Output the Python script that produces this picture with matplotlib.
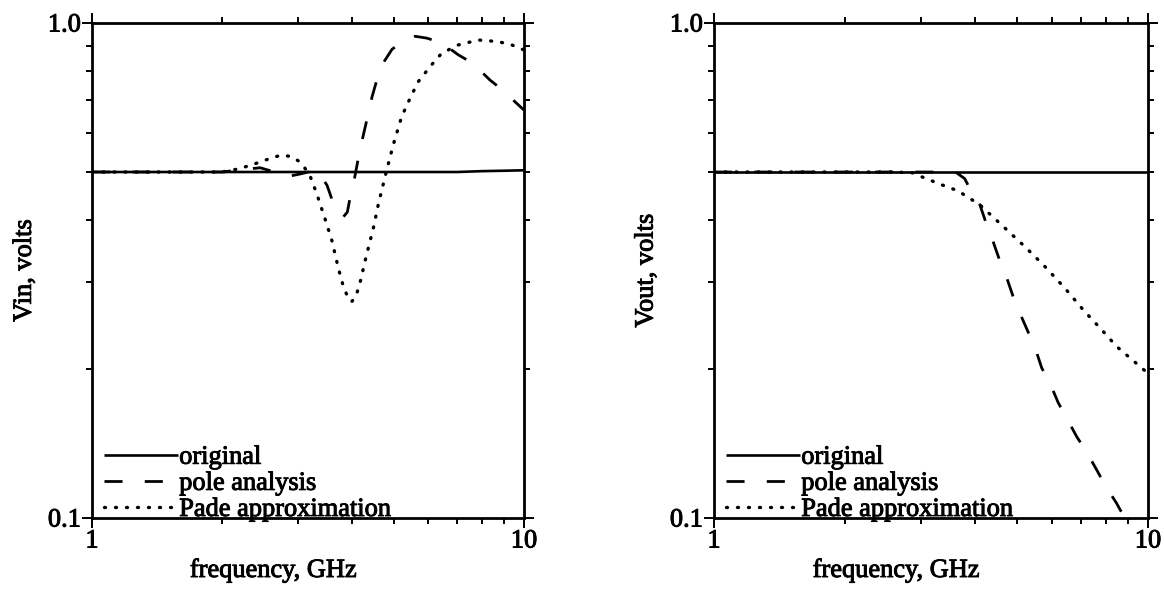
import matplotlib
matplotlib.use("Agg")
import matplotlib.pyplot as plt
import matplotlib.patheffects as pe
from matplotlib.ticker import NullFormatter

# ---------------- data ----------------
x_major_ticks = [1, 10]
x_major_labels = ["1", "10"]
y_major_ticks = [0.1, 1.0]
y_major_labels = ["0.1", "1.0"]
x_minor_ticks = [2, 3, 4, 5, 6, 7, 8, 9]
y_minor_ticks = [0.2, 0.3, 0.4, 0.5, 0.6, 0.7, 0.8, 0.9]

series_labels = ["original", "pole analysis", "Pade approximation"]

# Left panel: Vin
vin_orig_x = [1, 2, 3, 4, 5, 6, 7, 8, 9, 10]
vin_orig_y = [0.5, 0.5, 0.5, 0.5, 0.5, 0.5, 0.5, 0.502, 0.503, 0.504]

vin_pole_x = [1.0, 2.0, 2.24, 2.45, 2.65, 2.85, 3.05, 3.32, 3.5, 3.61, 3.72, 3.82,
              3.9, 3.96, 4.06, 4.13, 4.24, 4.35, 4.45, 4.57, 4.72, 4.95, 5.3, 5.6,
              5.96, 6.46, 7.05, 7.6, 8.34, 8.8, 10.0]
vin_pole_y = [0.5, 0.5, 0.506, 0.51, 0.5, 0.49, 0.496, 0.505, 0.47, 0.435, 0.415, 0.406,
              0.415, 0.445, 0.49, 0.53, 0.59, 0.65, 0.71, 0.77, 0.83, 0.885, 0.925, 0.94,
              0.932, 0.911, 0.862, 0.83, 0.767, 0.739, 0.667]

vin_pade_x = [1.0, 1.5, 2.0, 2.2, 2.47, 2.62, 2.75, 2.9, 3.02, 3.11, 3.2, 3.31, 3.46,
              3.59, 3.72, 3.82, 3.92, 3.99, 4.08, 4.17, 4.32, 4.48, 4.6, 4.79, 4.98,
              5.21, 5.45, 5.69, 6.06, 6.45, 7.05, 7.84, 8.72, 9.4, 10.0]
vin_pade_y = [0.5, 0.5, 0.5, 0.508, 0.525, 0.535, 0.541, 0.537, 0.525, 0.509, 0.49,
              0.453, 0.403, 0.364, 0.319, 0.293, 0.278, 0.2735, 0.28, 0.298, 0.34,
              0.385, 0.43, 0.497, 0.567, 0.647, 0.705, 0.761, 0.816, 0.869, 0.903,
              0.924, 0.917, 0.902, 0.882]

# Right panel: Vout
vout_orig_x = [1, 2, 3, 4, 5, 6, 7, 8, 9, 10]
vout_orig_y = [0.5, 0.5, 0.5, 0.5, 0.5, 0.5, 0.5, 0.5, 0.5, 0.5]

vout_pole_x = [1.0, 2.0, 3.0, 3.6, 3.78, 3.92, 4.10, 4.25, 4.40, 4.56, 4.73, 4.89, 5.07,
               5.3, 5.5, 5.69, 5.94, 6.21, 6.5, 6.85, 7.22, 7.62, 7.96, 8.47, 8.62,
               9.2, 10.0]
vout_pole_y = [0.5, 0.5, 0.5, 0.5, 0.485, 0.456, 0.429, 0.391, 0.361, 0.33, 0.305, 0.28,
               0.259, 0.237, 0.22, 0.201, 0.1875, 0.171, 0.159, 0.146, 0.136, 0.125,
               0.1166, 0.107, 0.104, 0.095, 0.085]

vout_pade_x = [1.0, 2.0, 2.6, 2.88, 3.01, 3.35, 3.65, 4.10, 4.64, 5.21, 5.79, 6.44,
               7.10, 7.89, 8.47, 10.0]
vout_pade_y = [0.5, 0.5, 0.5, 0.498, 0.489, 0.471, 0.458, 0.429, 0.388, 0.353, 0.322,
               0.291, 0.263, 0.238, 0.222, 0.196]

# ---------------- style ----------------
FONT = ["Liberation Serif", "DejaVu Serif"]
FS = 19
plt.rcParams["font.family"] = FONT
plt.rcParams["font.size"] = FS
HEAVY = [pe.withStroke(linewidth=0.7, foreground="black")]

fig = plt.figure(figsize=(11.64, 5.91), dpi=100)
W, H = 1164, 591

def make_axes(left_px, right_px, top_px=23, bottom_px=518):
    return fig.add_axes([left_px / W, (H - bottom_px) / H,
                         (right_px - left_px) / W, (bottom_px - top_px) / H])

axL = make_axes(92, 524)
axR = make_axes(714, 1148)

panels = [
    (axL, "Vin, volts", vin_orig_x, vin_orig_y, vin_pole_x, vin_pole_y, vin_pade_x, vin_pade_y),
    (axR, "Vout, volts", vout_orig_x, vout_orig_y, vout_pole_x, vout_pole_y, vout_pade_x, vout_pade_y),
]

for ax, ylab, ox, oy, px, py, dx, dy in panels:
    ax.set_xscale("log")
    ax.set_yscale("log")
    l1, = ax.plot(ox, oy, color="black", lw=1.9, solid_capstyle="butt", label=series_labels[0])
    l2, = ax.plot(px, py, color="black", lw=2.0, dashes=(6.5, 8.0), dash_capstyle="butt",
                  label=series_labels[1])
    l3, = ax.plot(dx, dy, color="black", lw=2.4, linestyle=(0, (0.3, 3.0)),
                  dash_capstyle="round", label=series_labels[2])
    ax.set_xlim(1, 10)
    ax.set_ylim(0.1, 1.0)

    ax.set_xticks(x_major_ticks, labels=x_major_labels)
    ax.set_yticks(y_major_ticks, labels=y_major_labels)
    ax.set_xticks(x_minor_ticks, minor=True)
    ax.set_yticks(y_minor_ticks, minor=True)
    ax.xaxis.set_minor_formatter(NullFormatter())
    ax.yaxis.set_minor_formatter(NullFormatter())

    ax.tick_params(which="both", direction="out", top=True, right=True,
                   width=1.4, color="black", labelsize=FS)
    ax.tick_params(which="major", length=7)
    ax.tick_params(which="minor", length=4.3)
    ax.tick_params(axis="y", which="major", pad=1)
    ax.tick_params(axis="x", which="major", pad=2)
    for sp in ax.spines.values():
        sp.set_linewidth(2.0)

    ax.set_xlabel("frequency, GHz", fontsize=FS)
    ax.xaxis.set_label_coords(0.42, -(577 - 518) / 495)
    ax.xaxis.label.set_verticalalignment("baseline")
    ax.set_ylabel(ylab, fontsize=FS)
    ax.yaxis.set_label_coords(-0.13, 0.5)

    leg = ax.legend(handles=[l1, l2, l3], loc="lower left",
                    bbox_to_anchor=(12 / 432, -0.006), frameon=False,
                    borderpad=0, borderaxespad=0, labelspacing=0.1,
                    handlelength=2.8, handletextpad=0.05, fontsize=FS)
    texts = list(leg.get_texts()) + [ax.xaxis.label, ax.yaxis.label]
    texts += ax.get_xticklabels() + ax.get_yticklabels()
    for t in texts:
        t.set_path_effects(HEAVY)

fig.savefig("out.png", dpi=100)
